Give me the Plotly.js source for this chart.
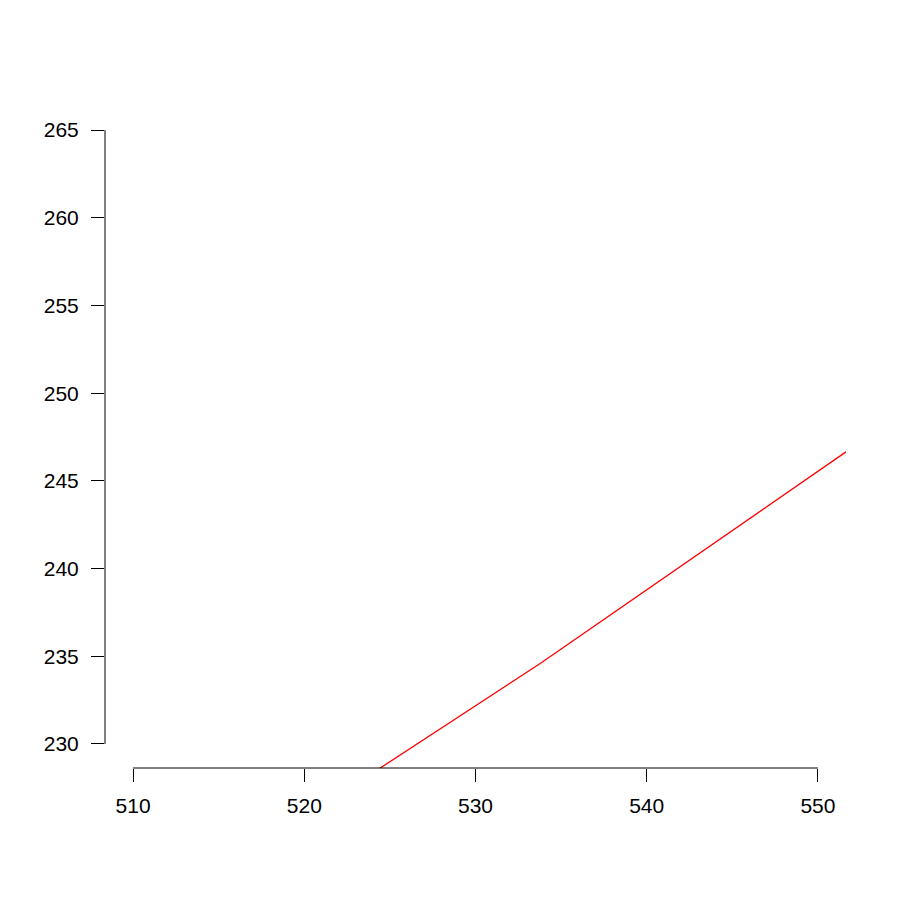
<!DOCTYPE html>
<html>
<head>
<meta charset="utf-8">
<script src="https://cdn.plot.ly/plotly-3.0.1.min.js"></script>
<style>html,body{margin:0;padding:0;background:#fff;}#chart{width:900px;height:900px;}</style>
</head>
<body>
<div id="chart"></div>
<script>
// Data (line continues beyond the visible plot region)
const xValues = [520, 533.8, 560];
const yValues = [225.8, 234.6, 252.3];
const xTicks = [510, 520, 530, 540, 550];
const yTicks = [230, 235, 240, 245, 250, 255, 260, 265];
const xRange = [508.36, 551.64];
const yRange = [228.63, 266.43];

const trace = {
  x: xValues, y: yValues, type: 'scatter', mode: 'lines',
  line: {color: '#ff0000', width: 1.3}, cliponaxis: true, hoverinfo: 'skip'
};

const font = {family: 'Liberation Sans, Arial, sans-serif', size: 21, color: '#000'};

const layout = {
  width: 900, height: 900,
  margin: {l: 105, r: 54, t: 105, b: 132},
  paper_bgcolor: '#fff', plot_bgcolor: '#fff',
  showlegend: false,
  font: font,
  xaxis: {
    range: xRange, showgrid: false, zeroline: false, showline: false,
    tickmode: 'array', tickvals: xTicks, ticktext: xTicks.map(String),
    ticks: 'outside', ticklen: 13, tickwidth: 1, tickcolor: '#000',
    tickfont: font, ticklabelstandoff: 6
  },
  yaxis: {
    range: yRange, showgrid: false, zeroline: false, showline: false,
    tickmode: 'array', tickvals: yTicks, ticktext: yTicks.map(String),
    ticks: 'outside', ticklen: 13, tickwidth: 1, tickcolor: '#000',
    tickfont: font, ticklabelstandoff: 8
  },
  shapes: [
    {type: 'line', xref: 'x', yref: 'paper', x0: xTicks[0], x1: xTicks[xTicks.length - 1], y0: 0, y1: 0,
     line: {color: '#000', width: 1}},
    {type: 'line', xref: 'paper', yref: 'y', x0: 0, x1: 0, y0: yTicks[0], y1: yTicks[yTicks.length - 1],
     line: {color: '#000', width: 1}}
  ]
};

Plotly.newPlot('chart', [trace], layout, {displayModeBar: false, staticPlot: true});
</script>
</body>
</html>
